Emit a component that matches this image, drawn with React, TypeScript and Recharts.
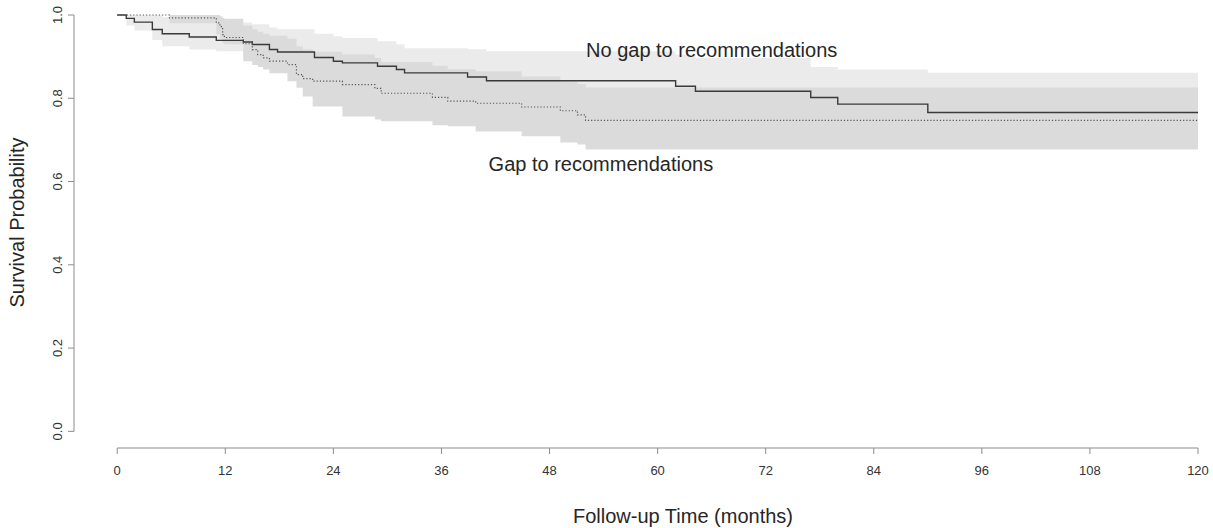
import {
  ComposedChart,
  Area,
  Line,
  XAxis,
  YAxis,
  ReferenceLine,
  ReferenceDot,
} from "recharts";

// Kaplan-Meier, patients with no gap to recommendations (solid)
const noGapTime = [0, 1.0, 1.9, 3.9, 5.0, 8.0, 11.0, 14.0, 15.0, 16.9, 17.8, 21.9, 24.0, 25.0, 28.9, 31.0, 31.9, 38.9, 41.0, 62.0, 64.2, 77.0, 80.0, 90.0, 120];
const noGapSurv = [1, 0.992, 0.983, 0.965, 0.955, 0.947, 0.939, 0.935, 0.929, 0.917, 0.911, 0.898, 0.889, 0.885, 0.877, 0.869, 0.861, 0.851, 0.842, 0.829, 0.817, 0.802, 0.786, 0.766, 0.766];
const noGapLower = [1, 0.975, 0.963, 0.94, 0.925, 0.917, 0.913, 0.895, 0.885, 0.87, 0.862, 0.848, 0.838, 0.833, 0.823, 0.813, 0.803, 0.791, 0.781, 0.765, 0.75, 0.732, 0.713, 0.69, 0.69];
const noGapUpper = [1, 1, 1, 1, 0.995, 0.99, 0.985, 0.982, 0.978, 0.97, 0.966, 0.955, 0.949, 0.945, 0.937, 0.93, 0.92, 0.918, 0.913, 0.905, 0.897, 0.875, 0.869, 0.861, 0.861];

// patients with a gap to recommendations (dotted)
const gapTime = [0, 5.8, 11.0, 11.4, 11.7, 11.9, 14.0, 15.0, 15.6, 16.2, 16.9, 18.9, 19.9, 20.6, 21.7, 25.0, 28.6, 29.3, 35.0, 36.7, 39.8, 44.9, 49.2, 51.1, 52.0, 120];
const gapSurv = [1, 0.993, 0.981, 0.972, 0.953, 0.946, 0.931, 0.917, 0.905, 0.897, 0.889, 0.881, 0.857, 0.847, 0.841, 0.833, 0.824, 0.812, 0.802, 0.793, 0.788, 0.779, 0.77, 0.76, 0.747, 0.747];
const gapLower = [1, 0.98, 0.953, 0.943, 0.933, 0.93, 0.889, 0.88, 0.875, 0.869, 0.86, 0.841, 0.825, 0.804, 0.78, 0.756, 0.749, 0.745, 0.735, 0.733, 0.72, 0.709, 0.694, 0.689, 0.677, 0.677];
const gapUpper = [1, 1, 1, 0.997, 0.993, 0.991, 0.975, 0.966, 0.96, 0.955, 0.95, 0.943, 0.925, 0.918, 0.912, 0.905, 0.897, 0.887, 0.878, 0.87, 0.865, 0.852, 0.84, 0.834, 0.826, 0.826];

const xTicks = [0, 12, 24, 36, 48, 60, 72, 84, 96, 108, 120];
const yTicks = [0, 0.2, 0.4, 0.6, 0.8, 1.0];

const noGapLabel = { text: "No gap to recommendations", time: 66, surv: 0.915 };
const gapLabel = { text: "Gap to recommendations", time: 53.7, surv: 0.643 };

const noGapData = noGapTime.map((t, i) => ({
  time: t,
  surv: noGapSurv[i],
  band: [noGapLower[i], noGapUpper[i]],
}));
const gapData = gapTime.map((t, i) => ({
  time: t,
  surv: gapSurv[i],
  band: [gapLower[i], gapUpper[i]],
}));

const FONT = "'Liberation Sans', Arial, Helvetica, sans-serif";
const AXIS = "#8c8c8c";
const TEXT = "#262626";

function YTick(props: any) {
  const { x, y, payload } = props;
  const bx = x - 4;
  return (
    <text
      x={bx}
      y={y}
      transform={`rotate(-90, ${bx}, ${y})`}
      textAnchor="middle"
      fontSize={13}
      fontFamily={FONT}
      fill="#333"
    >
      {Number(payload.value).toFixed(1)}
    </text>
  );
}

export default function App() {
  return (
    <div style={{ position: "absolute", left: 0, top: 0, width: 1213, height: 528, background: "#fff" }}>
      <ComposedChart width={1213} height={528} margin={{ top: 15, right: 15, bottom: 0, left: 0 }}>
        <XAxis
          type="number"
          dataKey="time"
          domain={[-4.8, 120]}
          ticks={xTicks}
          axisLine={false}
          tickLine={{ stroke: AXIS }}
          tickSize={6}
          tickMargin={12}
          height={80}
          tick={{ fontSize: 13, fill: "#333", fontFamily: FONT }}
          label={{
            value: "Follow-up Time (months)",
            position: "insideBottom",
            offset: 5,
            dx: 47,
            fontSize: 20,
            fill: TEXT,
            fontFamily: FONT,
          }}
        />
        <YAxis
          type="number"
          domain={[-0.04, 1]}
          ticks={yTicks}
          axisLine={false}
          tickLine={{ stroke: AXIS }}
          tickSize={6}
          tickMargin={2}
          width={74}
          tick={<YTick />}
          label={{
            value: "Survival Probability",
            angle: -90,
            position: "insideLeft",
            offset: 17,
            dy: -9,
            fontSize: 20,
            fill: TEXT,
            fontFamily: FONT,
            style: { textAnchor: "middle" },
          }}
        />
        <Area
          data={noGapData}
          dataKey="band"
          type="stepAfter"
          fill="#ebebeb"
          fillOpacity={1}
          stroke="none"
          isAnimationActive={false}
        />
        <Area
          data={gapData}
          dataKey="band"
          type="stepAfter"
          fill="#dbdbdb"
          fillOpacity={1}
          stroke="none"
          isAnimationActive={false}
        />
        <Line
          data={noGapData}
          dataKey="surv"
          type="stepAfter"
          stroke="#3a3a3a"
          strokeWidth={1.4}
          dot={false}
          isAnimationActive={false}
        />
        <Line
          data={gapData}
          dataKey="surv"
          type="stepAfter"
          stroke="#555"
          strokeWidth={1.2}
          strokeDasharray="1.2 2"
          dot={false}
          isAnimationActive={false}
        />
        <ReferenceLine
          segment={[{ x: 0, y: -0.04 }, { x: 120, y: -0.04 }]}
          stroke={AXIS}
          ifOverflow="visible"
        />
        <ReferenceLine
          segment={[{ x: -4.8, y: 0 }, { x: -4.8, y: 1 }]}
          stroke={AXIS}
          ifOverflow="visible"
        />
        <ReferenceDot
          x={noGapLabel.time}
          y={noGapLabel.surv}
          r={0}
          stroke="none"
          fill="none"
          ifOverflow="visible"
          label={{ value: noGapLabel.text, position: "center", fontSize: 20, fill: TEXT, fontFamily: FONT }}
        />
        <ReferenceDot
          x={gapLabel.time}
          y={gapLabel.surv}
          r={0}
          stroke="none"
          fill="none"
          ifOverflow="visible"
          label={{ value: gapLabel.text, position: "center", fontSize: 20, fill: TEXT, fontFamily: FONT }}
        />
      </ComposedChart>
    </div>
  );
}
